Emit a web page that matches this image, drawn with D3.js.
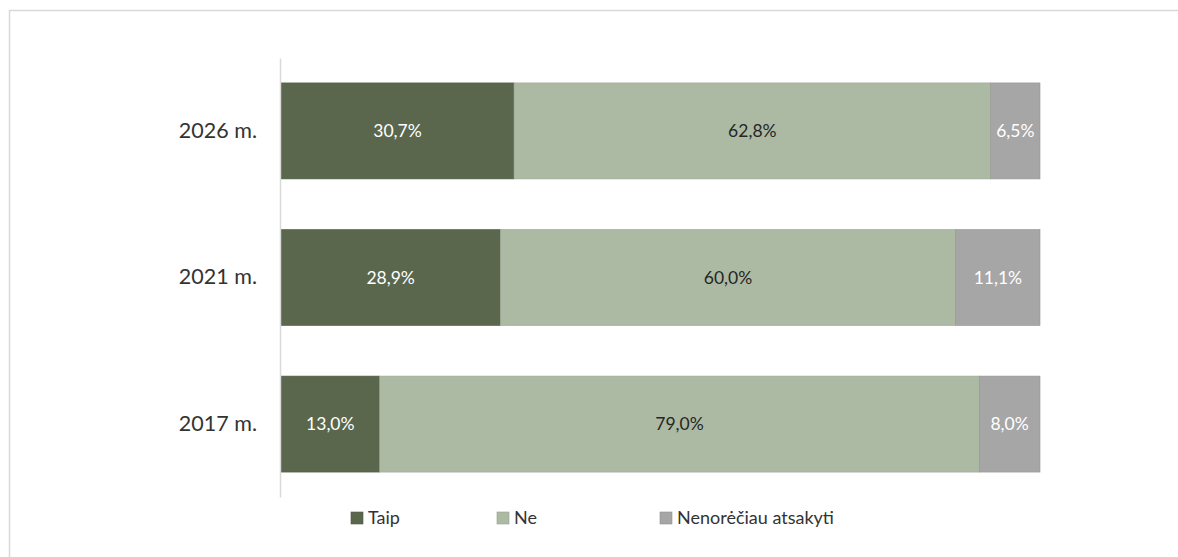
<!DOCTYPE html>
<html><head><meta charset="utf-8">
<script src="https://cdn.jsdelivr.net/npm/d3@7"></script>
<style>body{margin:0;background:#fff;} svg{display:block;font-family:Lato,"Open Sans",sans-serif;}</style>
</head><body><svg id="c" width="1178" height="557"></svg>
<script>
const categories = ["2026 m.", "2021 m.", "2017 m."];
const seriesNames = ["Taip", "Ne", "Nenorėčiau atsakyti"];
const taip = [30.7, 28.9, 13.0];
const ne = [62.8, 60.0, 79.0];
const nenoreciau = [6.5, 11.1, 8.0];
const colors = ["#5a674d", "#adbaa3", "#a6a6a6"];
const labelColors = ["#ffffff", "#262626", "#ffffff"];

const svg = d3.select("#c");
svg.append("rect").attr("x",9.5).attr("y",10.5).attr("width",1180).attr("height",560)
  .attr("fill","none").attr("stroke","#d9d9d9").attr("stroke-width",1.5);

const x = d3.scaleLinear().domain([0,100]).range([281,1040]);
const y = d3.scaleBand().domain(categories).range([58,497]).paddingInner(0.345).paddingOuter(0.17);

const rows = categories.map((c,i)=>({cat:c, vals:[taip[i], ne[i], nenoreciau[i]]}));
const stackData = rows.map(r=>({cat:r.cat, s0:r.vals[0], s1:r.vals[1], s2:r.vals[2]}));
const stack = d3.stack().keys(["s0","s1","s2"])(stackData);

const g = svg.append("g");
stack.forEach((layer,si)=>{
  const lg = g.append("g");
  lg.selectAll("rect").data(layer).enter().append("rect")
    .attr("x",d=>x(d[0])).attr("y",d=>y(d.data.cat))
    .attr("width",d=>x(d[1])-x(d[0])).attr("height",y.bandwidth())
    .attr("fill",colors[si]).attr("stroke",d3.color(colors[si]).darker(0.3)).attr("stroke-width",0.6);
  lg.selectAll("text").data(layer).enter().append("text")
    .attr("x",d=>(x(d[0])+x(d[1]))/2).attr("y",d=>y(d.data.cat)+y.bandwidth()/2)
    .attr("text-anchor","middle").attr("dy","0.35em")
    .attr("fill",labelColors[si]).attr("font-size",17.5)
    .text(d=>d3.format(".1f")(d[1]-d[0]).replace(".",",")+"%");
});

// y axis
const yAxis = d3.axisLeft(y).tickSize(0).tickPadding(23);
const ya = svg.append("g").attr("transform","translate(280,0)").call(yAxis);
ya.select(".domain").attr("stroke","#d9d9d9").attr("stroke-width",1.5);
ya.selectAll("text").attr("font-size",21.5).attr("fill","#333").attr("font-family","Lato,'Open Sans',sans-serif");

// legend
const legX = [351, 497, 660];
const lg = svg.append("g");
seriesNames.forEach((n,i)=>{
  lg.append("rect").attr("x",legX[i]).attr("y",512).attr("width",12).attr("height",12)
    .attr("fill",colors[i]).attr("stroke",d3.color(colors[i]).darker(0.4)).attr("stroke-width",0.6);
  lg.append("text").attr("x",legX[i]+17).attr("y",518).attr("dy","0.35em")
    .attr("font-size",18).attr("fill","#333").text(n);
});
</script></body></html>
